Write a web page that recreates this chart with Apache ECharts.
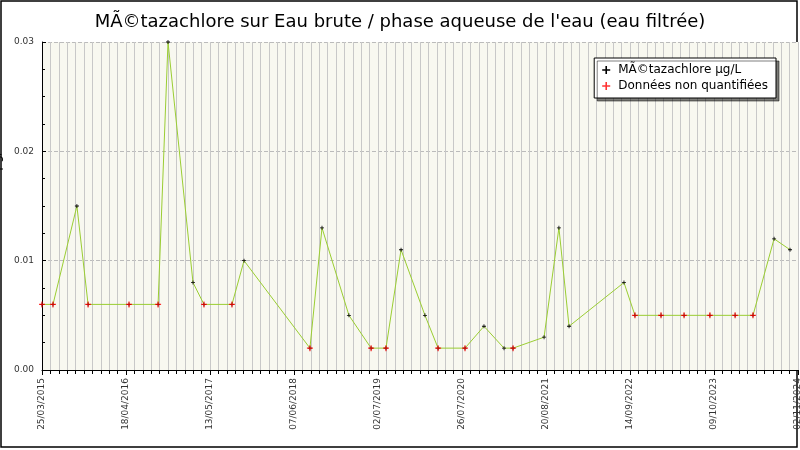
<!DOCTYPE html><html><head><meta charset="utf-8"><script src="https://cdn.jsdelivr.net/npm/echarts@6/dist/echarts.min.js"></script></head><body style="margin:0"><div id="c" style="width:800px;height:450px"></div><script>
var startDate = [2015, 2, 25];
var days = [0,51,162,214,404,539,585,701,752,882,938,1244,1300,1425,1528,1597,1667,1778,1839,1964,2052,2145,2187,2331,2400,2447,2702,2753,2874,2981,3101,3218,3301,3399,3473];
var values = [0.006,0.006,0.015,0.006,0.006,0.006,0.030,0.008,0.006,0.006,0.010,0.002,0.013,0.005,0.002,0.002,0.011,0.005,0.002,0.002,0.004,0.002,0.002,0.003,0.013,0.004,0.008,0.005,0.005,0.005,0.005,0.005,0.005,0.012,0.011];
var nonQuant = [1,1,0,1,1,1,0,0,1,1,0,1,0,0,1,1,0,0,1,1,0,0,1,0,0,0,0,1,1,1,1,1,1,0,0];
var yTicks = [0, 0.01, 0.02, 0.03];
var plus = 'path://M4,0H6V4H10V6H6V10H4V6H0V4H4Z';
var line = days.map(function(d,i){return [d, values[i]];});
var red = days.map(function(d,i){return nonQuant[i]?[d, values[i]]:null;}).filter(Boolean);
function fmt(d){var t=new Date(Date.UTC(startDate[0],startDate[1],startDate[2])+d*864e5);function p(n){return (n<10?'0':'')+n;}return p(t.getUTCDate())+'/'+p(t.getUTCMonth()+1)+'/'+t.getUTCFullYear();}
var ch = echarts.init(document.getElementById('c'));
ch.setOption({
 backgroundColor:'#fff',
 animation:false,
 title:{text:'MÃ©tazachlore sur Eau brute / phase aqueuse de l\'eau (eau filtrée)',left:'center',top:8,textStyle:{fontFamily:'DejaVu Sans',fontSize:18,fontWeight:'normal',color:'#000'}},
 graphic:[{type:'rect',shape:{x:1,y:1,width:796,height:446},style:{fill:'none',stroke:'#000',lineWidth:1.5},z:-1}],
 grid:{left:42,right:2,top:42,bottom:80,containLabel:false,outerBoundsMode:'none',backgroundColor:'#f8f8f0',show:true,borderWidth:0},
 legend:{right:24,top:58,orient:'vertical',backgroundColor:'#fff',borderColor:'#000',borderWidth:1,padding:[6,8],itemGap:4,itemWidth:14,itemHeight:8,shadowColor:'rgba(0,0,0,0.5)',shadowOffsetX:3,shadowOffsetY:3,shadowBlur:0,textStyle:{fontFamily:'DejaVu Sans',fontSize:12,color:'#000'},
  data:[{name:'MÃ©tazachlore µg/L',icon:plus,itemStyle:{color:'#000'}},{name:'Données non quantifiées',icon:plus,itemStyle:{color:'#f00'}}]},
 xAxis:{type:'value',min:0,max:3510,interval:390,
  axisLine:{lineStyle:{color:'#000'}},axisTick:{length:5,lineStyle:{color:'#000'}},
  minorTick:{show:true,splitNumber:10,length:4,lineStyle:{color:'#000'}},
  minorSplitLine:{show:true,lineStyle:{color:'#c8c8c8',width:1}},
  splitLine:{show:true,lineStyle:{color:'#c8c8c8'}},
  axisLabel:{rotate:90,fontSize:9,color:'#333',fontFamily:'DejaVu Sans',formatter:function(v){return fmt(v);}}},
 yAxis:{type:'value',min:0,max:0.03,interval:0.01,name:'MÃ©tazachlore µg/L',nameLocation:'middle',nameGap:28,nameTextStyle:{fontFamily:'DejaVu Sans',fontSize:12,color:'#000'},
  axisLine:{show:true,lineStyle:{color:'#000'}},axisTick:{show:true,length:4,inside:true,lineStyle:{color:'#000'}},
  minorTick:{show:true,splitNumber:4,length:3,lineStyle:{color:'#000'}},
  splitLine:{show:true,lineStyle:{color:'#bbb',type:'dashed'}},
  axisLabel:{fontSize:9,color:'#333',fontFamily:'DejaVu Sans',formatter:function(v){return v.toFixed(2);}}},
 series:[
  {name:'MÃ©tazachlore µg/L',type:'line',data:line,symbol:plus,symbolSize:4,itemStyle:{color:'#000'},lineStyle:{color:'#9acd32',width:1}},
  {name:'Données non quantifiées',type:'scatter',data:red,symbol:plus,symbolSize:6,itemStyle:{color:'#f00'},z:5}
 ]
});
</script></body></html>
